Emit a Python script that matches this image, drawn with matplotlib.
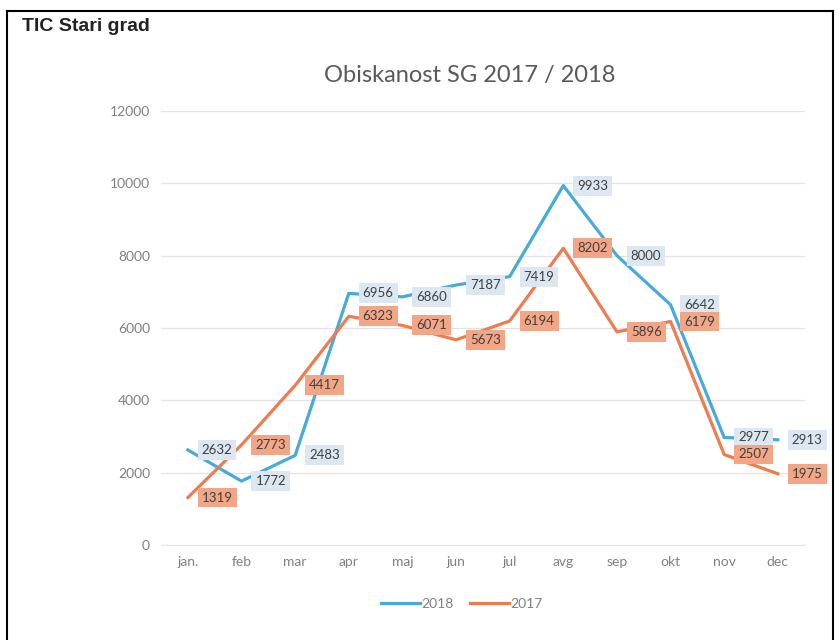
import matplotlib.pyplot as plt
from matplotlib.lines import Line2D

# podatki
months = ["jan.", "feb", "mar", "apr", "maj", "jun", "jul", "avg", "sep", "okt", "nov", "dec"]
val2018 = [2632, 1772, 2483, 6956, 6860, 7187, 7419, 9933, 8000, 6642, 2977, 2913]
val2017 = [1319, 2773, 4417, 6323, 6071, 5673, 6194, 8202, 5896, 6179, 2507, 1975]

blue = "#48aadb"
orange = "#ef7c50"

plt.rcParams['font.family'] = ['Lato', 'DejaVu Sans']

fig = plt.figure(figsize=(8.39, 6.4), dpi=100)
ax = fig.add_axes([0.192, 0.148, 0.767, 0.679])

x = list(range(len(months)))
ax.plot(x, val2018, color=blue, lw=2.3, label="2018", zorder=3)
ax.plot(x, val2017, color=orange, lw=2.3, label="2017", zorder=3)

# oznake podatkov
for i, v in enumerate(val2018):
    ax.annotate(str(v), (i, v), xytext=(10, 0), textcoords="offset points",
                ha="left", va="center", fontsize=9.5, color="#404040", zorder=4,
                bbox=dict(boxstyle="square,pad=0.3", fc="#dde7f1", ec="none"))
for i, v in enumerate(val2017):
    ax.annotate(str(v), (i, v), xytext=(10, 0), textcoords="offset points",
                ha="left", va="center", fontsize=9.5, color="#404040", zorder=5,
                bbox=dict(boxstyle="square,pad=0.3", fc="#f3a686", ec="none"))

ax.set_xlim(-0.5, 11.5)
ax.set_ylim(0, 12000)
ax.set_yticks(range(0, 12001, 2000))
ax.set_xticks(x)
ax.set_xticklabels(months)
ax.tick_params(length=0, labelsize=10, colors="#808080", pad=8)
ax.grid(axis="y", color="#e3e3e3", lw=0.9)
ax.set_axisbelow(True)
for s in ["top", "right", "left"]:
    ax.spines[s].set_visible(False)
ax.spines["bottom"].set_color("#e3e3e3")

fig.text(0.56, 0.882, "Obiskanost SG 2017 / 2018", ha="center", va="center",
         fontsize=17, color="#595959")
fig.text(0.026, 0.958, "TIC Stari grad", ha="left", va="center", fontsize=14,
         fontweight="bold", family="Liberation Sans", color="#222222")

leg = fig.legend(loc="center", bbox_to_anchor=(462 / 839, 1 - 604 / 640), ncol=2,
                 frameon=False, fontsize=10, handlelength=2.8, columnspacing=1.2,
                 handletextpad=0.1)
for t in leg.get_texts():
    t.set_color("#808080")

# okvir
fig.add_artist(Line2D([7 / 839, 7 / 839], [0, 1 - 11 / 640], color="black", lw=1.5))
fig.add_artist(Line2D([7 / 839, 833 / 839], [1 - 11 / 640, 1 - 11 / 640], color="black", lw=1.5))
fig.add_artist(Line2D([833 / 839, 833 / 839], [0, 1 - 11 / 640], color="black", lw=1.5))

plt.savefig("out.png")
